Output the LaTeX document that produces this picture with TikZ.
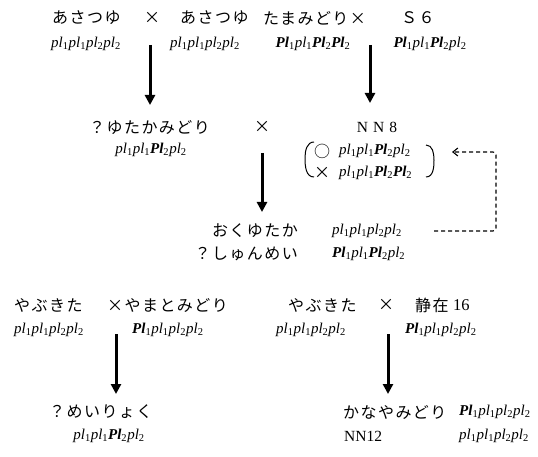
\documentclass[tikz,border=0pt]{standalone}
\usepackage{fontspec}
\setmainfont{Liberation Serif}
\newfontfamily\jp[LetterSpace=9]{Noto Sans CJK JP}
\usetikzlibrary{arrows.meta}
\newcommand\gl[1]{\textit{pl}\textsubscript{#1}}
\newcommand\gU[1]{\textbf{\textit{Pl}}\textsubscript{#1}}
\tikzset{
  jptext/.style={inner sep=0pt, font=\jp\fontsize{16}{19}\selectfont},
  geno/.style={inner sep=0pt, font=\fontsize{15}{17}\selectfont},
  rmtext/.style={inner sep=0pt, font=\fontsize{15.5}{18}\selectfont},
  bigarrow/.style={line width=3pt, -{Triangle[width=10pt,length=10pt]}},
  dasharrow/.style={line width=1.1pt, dash pattern=on 4pt off 3pt, rounded corners=3pt, -{Straight Barb[length=5pt,width=8pt]}},
  brk/.style={line width=1pt}
}
\begin{document}
\begin{tikzpicture}[x=1pt,y=-1pt]
\useasboundingbox (0,0) rectangle (538,457);
% row 1
\node[jptext,anchor=west] (a1) at (52,18) {あさつゆ};
\node[jptext] (x1) at (152,18) {×};
\node[jptext,anchor=west] (a2) at (180,18) {あさつゆ};
\node[jptext,anchor=west] (t1) at (263,18) {たまみどり×};
\node[jptext,anchor=west] (s6) at (401,18) {Ｓ６};
\node[geno] (g1) at (86,44) {\gl1\gl1\gl2\gl2};
\node[geno] (g2) at (205,44) {\gl1\gl1\gl2\gl2};
\node[geno] (g3) at (313,44) {\gU1\gl1\gU2\gU2};
\node[geno] (g4) at (430,44) {\gU1\gl1\gU2\gl2};
\coordinate (ar1s) at (150,45); \coordinate (ar1e) at (150,105);
\coordinate (ar2s) at (370,45); \coordinate (ar2e) at (370,103);
\draw[bigarrow] (ar1s) -- (ar1e);
\draw[bigarrow] (ar2s) -- (ar2e);
% row 2
\node[jptext,anchor=west] (y1) at (89,127) {？ゆたかみどり};
\node[jptext] (x2) at (262,127) {×};
\node[rmtext] (nn8) at (377,127) {N\,\,N\,\,8};
\node[geno] (g5) at (151,150) {\gl1\gl1\gU2\gl2};
\node[jptext] (o1) at (322,151) {○};
\node[geno,anchor=west] (g6) at (339,151) {\gl1\gl1\gU2\gl2};
\node[jptext] (x3) at (322,173) {×};
\node[geno,anchor=west] (g7) at (339,173) {\gl1\gl1\gU2\gU2};
\draw[brk] (314,142) to[out=180,in=90] (305,158) to[out=-90,in=180] (314,177);
\draw[brk] (426,145) to[out=0,in=90] (434,160) to[out=-90,in=0] (426,177);
\coordinate (ar3s) at (262,153); \coordinate (ar3e) at (262,212);
\draw[bigarrow] (ar3s) -- (ar3e);
% row 3
\node[jptext,anchor=east] (ok) at (298,231) {おくゆたか};
\node[geno,anchor=west] (g8) at (332,231) {\gl1\gl1\gl2\gl2};
\node[jptext,anchor=east] (sy) at (298,254) {？しゅんめい};
\node[geno,anchor=west] (g9) at (332,254) {\gU1\gl1\gU2\gl2};
\coordinate (d1) at (434,231);
\coordinate (d2) at (496,231);
\coordinate (d3) at (496,152);
\coordinate (d4) at (452,152);
\draw[dasharrow] (d1) -- (d2) -- (d3) -- (d4);
% row 4 left
\node[jptext,anchor=west] (yb1) at (14,305) {やぶきた};
\node[jptext,anchor=west] (ym) at (107,305) {×やまとみどり};
\node[geno,anchor=west] (g10) at (14,330) {\gl1\gl1\gl2\gl2};
\node[geno,anchor=west] (g11) at (132,330) {\gU1\gl1\gl2\gl2};
\coordinate (ar4s) at (116,334); \coordinate (ar4e) at (116,394);
\draw[bigarrow] (ar4s) -- (ar4e);
\node[jptext,anchor=west] (mr) at (49,412) {？めいりょく};
\node[geno] (g12) at (109,436) {\gl1\gl1\gU2\gl2};
% row 4 right
\node[jptext,anchor=west] (yb2) at (288,305) {やぶきた};
\node[jptext] (x4) at (386,305) {×};
\node[jptext,anchor=west] (sz) at (415,305) {静在};
\node[rmtext,anchor=west,font=\fontsize{16.5}{19}\selectfont,xshift=4pt] (n16) at (sz.east) {16};
\node[geno,anchor=west] (g13) at (276,330) {\gl1\gl1\gl2\gl2};
\node[geno,anchor=west] (g14) at (405,330) {\gU1\gl1\gl2\gl2};
\coordinate (ar5s) at (388,334); \coordinate (ar5e) at (388,394);
\draw[bigarrow] (ar5s) -- (ar5e);
\node[jptext,anchor=west] (kn) at (343,412) {かなやみどり};
\node[geno,anchor=west] (g15) at (459,412) {\gU1\gl1\gl2\gl2};
\node[rmtext,anchor=west] (nn12) at (344,436) {NN12};
\node[geno,anchor=west] (g16) at (459,436) {\gl1\gl1\gl2\gl2};
\end{tikzpicture}
\end{document}
